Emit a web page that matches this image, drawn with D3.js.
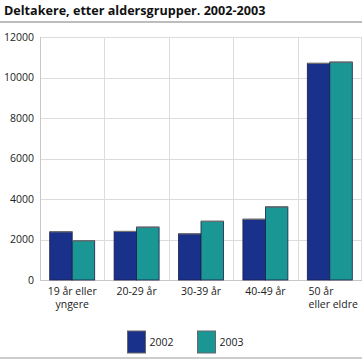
<!DOCTYPE html>
<html><head><meta charset="utf-8">
<script src="https://cdn.jsdelivr.net/npm/d3@7"></script>
<style>body{margin:0;background:#fff}svg{display:block;font-family:"Open Sans",sans-serif}</style>
</head><body><svg id="c" width="362" height="359"></svg>
<script>
const categories = ["19 år eller yngere", "20-29 år", "30-39 år", "40-49 år", "50 år eller eldre"];
const categoryLines = [["19 år eller", "yngere"], ["20-29 år"], ["30-39 år"], ["40-49 år"], ["50 år", "eller eldre"]];
const seriesNames = ["2002", "2003"];
const values2002 = [2380, 2400, 2280, 3000, 10700];
const values2003 = [1940, 2610, 2900, 3610, 10760];
const yTicks = [0, 2000, 4000, 6000, 8000, 10000, 12000];
const colors = ["#1a318c", "#1a9694"];

const svg = d3.select("#c");
const W = 362, H = 359;
const m = {l: 40, r: 0, t: 37, b: 79};
const x = d3.scaleBand().domain(categories).range([m.l, W - m.r]);
const xs = d3.scaleBand().domain(seriesNames).range([0, 45]);
const y = d3.scaleLinear().domain([0, 12000]).range([H - m.b, m.t]);

svg.append("text").attr("x", 4).attr("y", 15).attr("font-weight", "bold").attr("font-size", 12.6)
  .attr("fill", "#111").text("Deltakere, etter aldersgrupper. 2002-2003");
svg.append("line").attr("x1", 0).attr("x2", W).attr("y1", 22).attr("y2", 22).attr("stroke", "#bdbdbd").attr("stroke-width", 2);
svg.append("line").attr("x1", 0).attr("x2", W).attr("y1", 358).attr("y2", 358).attr("stroke", "#bdbdbd").attr("stroke-width", 1.5);

// grid
const g = svg.append("g");
g.selectAll(".h").data(yTicks).join("line").attr("x1", m.l).attr("x2", W).attr("y1", d => Math.round(y(d)) + 0.5).attr("y2", d => Math.round(y(d)) + 0.5)
  .attr("stroke", d => d === 0 ? "#c8c8c8" : "#dcdcdc");
g.selectAll(".v").data(categories.concat(["end"])).join("line")
  .attr("x1", (d, i) => i < categories.length ? Math.round(x(d)) + 0.5 : W - 0.5)
  .attr("x2", (d, i) => i < categories.length ? Math.round(x(d)) + 0.5 : W - 0.5)
  .attr("y1", y(12000)).attr("y2", y(0)).attr("stroke", (d, i) => i === 0 ? "#c8c8c8" : "#dcdcdc");

// y axis labels
const yAxis = d3.axisLeft(y).tickValues(yTicks).tickSize(0).tickPadding(6).tickFormat(d3.format("d"));
const ya = svg.append("g").attr("transform", `translate(${m.l},0)`).call(yAxis);
ya.select(".domain").remove();
ya.selectAll("text").attr("font-size", 10.5).attr("fill", "#222").attr("font-family", "Open Sans");

// bars
const series = [values2002, values2003];
series.forEach((vals, si) => {
  const off = (x.bandwidth() - 45) / 2;
  const gg = svg.append("g");
  gg.selectAll("rect").data(vals).join("rect")
    .attr("x", (d, i) => x(categories[i]) + off + xs(seriesNames[si]))
    .attr("y", d => y(d)).attr("width", xs.bandwidth()).attr("height", d => y(0) - y(d))
    .attr("fill", colors[si]).attr("stroke", "#1b1f4a").attr("stroke-width", 0.8);
  gg.selectAll("line").data(vals).join("line")
    .attr("x1", (d, i) => x(categories[i]) + off + xs(seriesNames[si]))
    .attr("x2", (d, i) => x(categories[i]) + off + xs(seriesNames[si]) + xs.bandwidth())
    .attr("y1", d => y(d)).attr("y2", d => y(d)).attr("stroke", "#707070").attr("stroke-width", 1.2);
});

// x labels
const xl = svg.append("g");
categories.forEach((c, i) => {
  const lines = categoryLines[i];
  const t = xl.append("text").attr("font-size", 10.5).attr("fill", "#222");
  const last = i === categories.length - 1;
  const cx = x(c) + x.bandwidth() / 2;
  lines.forEach((ln, li) => {
    t.append("tspan").attr("x", last ? x(c) + 11 : cx).attr("y", 295 + li * 12.5)
      .attr("text-anchor", last ? "start" : "middle").text(ln);
  });
});

// legend
const lg = svg.append("g");
const legX = [127.5, 197.5];
seriesNames.forEach((s, i) => {
  lg.append("rect").attr("x", legX[i]).attr("y", 331).attr("width", 18).attr("height", 22)
    .attr("fill", colors[i]).attr("stroke", "#666").attr("stroke-width", 1);
  lg.append("text").attr("x", legX[i] + 22).attr("y", 346).attr("font-size", 10.5).attr("fill", "#222").text(s);
});
</script></body></html>
